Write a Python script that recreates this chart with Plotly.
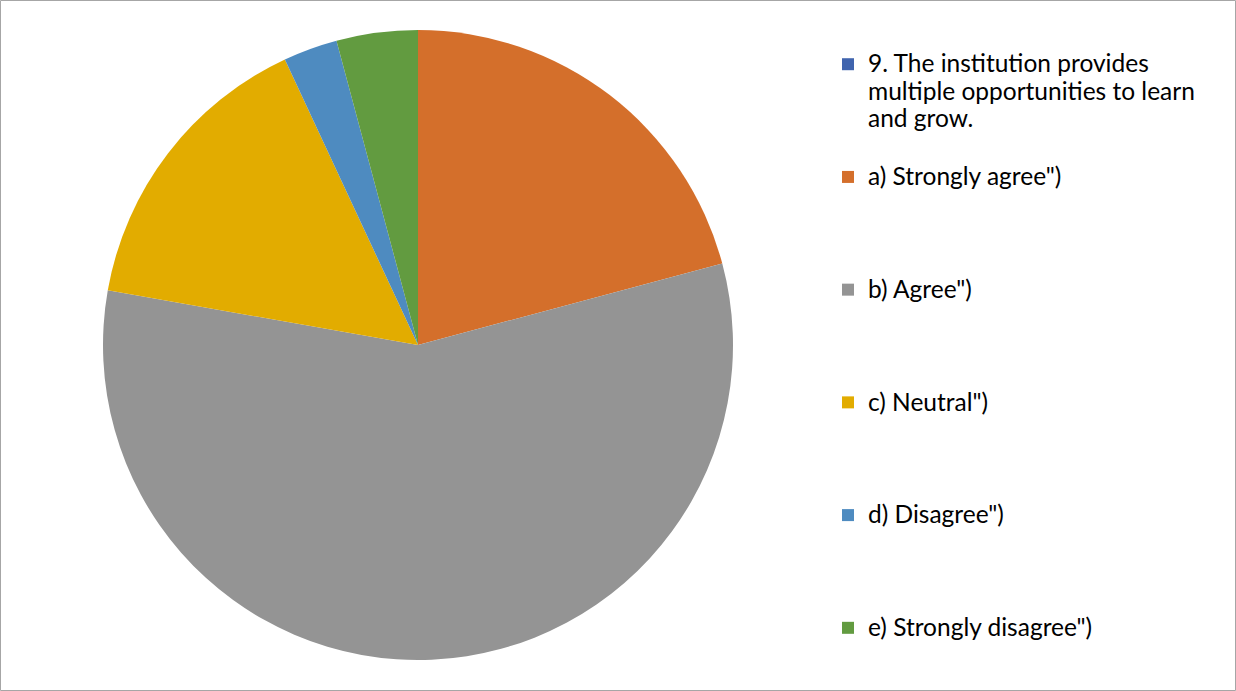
import plotly.graph_objects as go

labels = [
    "9. The institution provides multiple opportunities to learn and grow.",
    "a) Strongly agree\")",
    "b) Agree\")",
    "c) Neutral\")",
    "d) Disagree\")",
    "e) Strongly disagree\")",
]
legend_lines = [
    ["9. The institution provides", "multiple opportunities to learn", "and grow."],
    ["a) Strongly agree\")"],
    ["b) Agree\")"],
    ["c) Neutral\")"],
    ["d) Disagree\")"],
    ["e) Strongly disagree\")"],
]
values = [0, 15, 41, 11, 2, 3]
colors = ["#4064AE", "#D46F2B", "#949494", "#E2AC00", "#4E8BC0", "#629B40"]

W, H = 1236, 691
cx, cy, r = 418, 345, 315


def legend_label(lines, total_lines=4, last=False):
    shown = ['<span style="font-size:24.5px">%s</span>' % s for s in lines]
    if not last:
        shown += [" "] * (total_lines - len(lines))
    return "<br>".join(shown)


legend_text = [legend_label(l, last=(i == len(legend_lines) - 1)) for i, l in enumerate(legend_lines)]

fig = go.Figure(go.Pie(
    labels=legend_text,
    values=values,
    sort=False,
    direction="clockwise",
    rotation=0,
    textinfo="none",
    hovertext=labels,
    hoverinfo="text+value+percent",
    marker=dict(colors=colors, line=dict(width=0)),
    domain=dict(x=[(cx - r) / W, (cx + r) / W], y=[1 - (cy + r) / H, 1 - (cy - r) / H]),
))

fig.update_layout(
    width=W, height=H,
    margin=dict(l=0, r=0, t=0, b=0),
    paper_bgcolor="white",
    font=dict(family="Lato", size=21.1, color="#000000"),
    legend=dict(
        x=(868 - 40) / W, xanchor="left",
        y=1 - 44 / H, yanchor="top",
        valign="top",
        font=dict(family="Lato", size=21.1, color="#000000"),
        bgcolor="rgba(0,0,0,0)",
    ),
    shapes=[dict(type="rect", xref="paper", yref="paper",
                 x0=0.5 / W, x1=1 - 0.5 / W, y0=0.5 / H, y1=1 - 0.5 / H,
                 line=dict(color="#A6A6A6", width=1))],
)

fig.write_html("out.html")
